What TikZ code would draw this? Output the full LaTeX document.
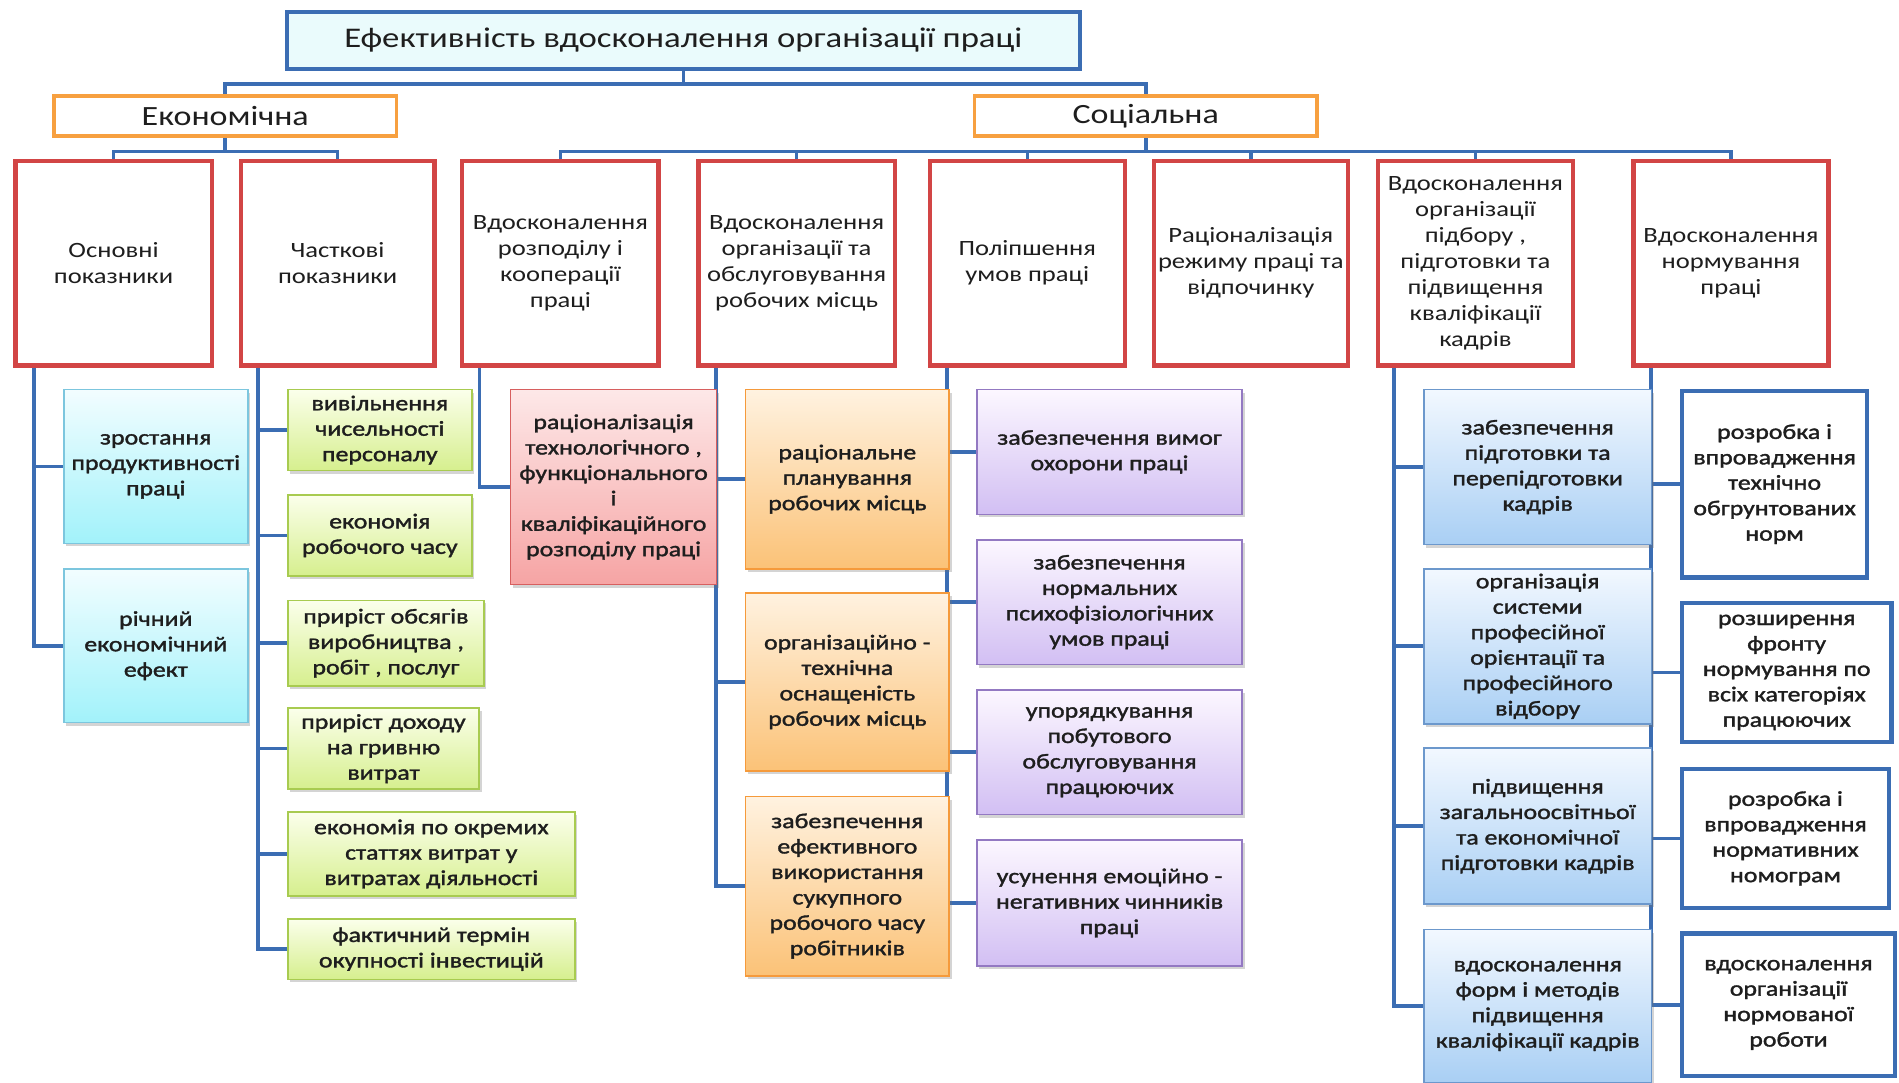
\documentclass[tikz,border=0pt]{standalone}
\usepackage{fontspec}
\setmainfont{Carlito}[FakeStretch=1.22]
\newfontfamily\leaffont{Carlito}[FakeStretch=1.22,FakeBold=1.6]
\usetikzlibrary{shadows,backgrounds}

\definecolor{linkblue}{HTML}{3B6DB3}
\definecolor{titlefill}{HTML}{EAFBFC}
\definecolor{grporange}{HTML}{F7A040}
\definecolor{catred}{HTML}{D24545}
\definecolor{inktext}{HTML}{1E1E1E}
\definecolor{cyantop}{HTML}{F2FDFF}\definecolor{cyanbot}{HTML}{A2F2FA}\definecolor{cyanline}{HTML}{7CC6DE}
\definecolor{greentop}{HTML}{FBFFEB}\definecolor{greenbot}{HTML}{D6EF8E}\definecolor{greenline}{HTML}{A8CB50}
\definecolor{pinktop}{HTML}{FDE8E8}\definecolor{pinkbot}{HTML}{F6A4A4}\definecolor{pinkline}{HTML}{D75F5F}
\definecolor{orangetop}{HTML}{FFF2E0}\definecolor{orangebot}{HTML}{FBC277}\definecolor{orangeline}{HTML}{F59A3B}
\definecolor{purpletop}{HTML}{FCF7FF}\definecolor{purplebot}{HTML}{D2BFF3}\definecolor{purpleline}{HTML}{9379C2}
\definecolor{skytop}{HTML}{F2F8FF}\definecolor{skybot}{HTML}{A9CFF4}\definecolor{skyline}{HTML}{6C98CC}

% box placed by its top-left and bottom-right corners
\newcommand\mkbox[7]{%
  \node[#1, anchor=north west, minimum width={#5-#3}, minimum height={#6-#4}] (#2) at (#3,#4) {#7};}

\tikzset{
  anybox/.style={inner sep=0pt, align=center, text=inktext},
  topbox/.style={anybox, draw=linkblue, line width=3.5pt, fill=titlefill, font=\fontsize{23.5}{27}\selectfont},
  grpbox/.style={anybox, draw=grporange, line width=3pt, fill=white, font=\fontsize{23}{27}\selectfont},
  catbox/.style={anybox, draw=catred, line width=3.5pt, fill=white, font=\fontsize{18}{21.5}\selectfont},
  leaf/.style={anybox, line width=1.3pt, font=\leaffont\fontsize{17.5}{21}\selectfont,
    drop shadow={shadow xshift=2pt, shadow yshift=-2.5pt, opacity=0.3, fill=black!55}},
  cyanleaf/.style={leaf, draw=cyanline, top color=cyantop, bottom color=cyanbot},
  greenleaf/.style={leaf, draw=greenline, top color=greentop, bottom color=greenbot},
  pinkleaf/.style={leaf, draw=pinkline, top color=pinktop, bottom color=pinkbot},
  orangeleaf/.style={leaf, draw=orangeline, top color=orangetop, bottom color=orangebot},
  purpleleaf/.style={leaf, draw=purpleline, top color=purpletop, bottom color=purplebot},
  skyleaf/.style={leaf, draw=skyline, top color=skytop, bottom color=skybot},
  normleaf/.style={anybox, draw=linkblue, line width=3.5pt, fill=white, font=\leaffont\fontsize{17.5}{21}\selectfont},
  link/.style={draw=linkblue, line width=3pt},
}

\begin{document}
\begin{tikzpicture}[x=1pt,y=-1pt]
\useasboundingbox (0,0) rectangle (1568,894);

% header and the two groups
\mkbox{topbox}{title}{235}{8}{890}{55}{Ефективність вдосконалення організації праці}
\mkbox{grpbox}{econ}{43}{78}{326}{111}{Економічна}
\mkbox{grpbox}{soc}{803}{78}{1086}{111}{Соціальна}

% categories
\mkbox{catbox}{r1}{11}{131}{173}{300}{Основні\\показники}
\mkbox{catbox}{r2}{197}{131}{357}{300}{Часткові\\показники}
\mkbox{catbox}{r3}{380}{131}{542}{300}{Вдосконалення\\розподілу і\\кооперації\\праці}
\mkbox{catbox}{r4}{575}{131}{737}{300}{Вдосконалення\\організації та\\обслуговування\\робочих місць}
\mkbox{catbox}{r5}{766}{131}{927}{300}{Поліпшення\\умов праці}
\mkbox{catbox}{r6}{951}{131}{1111}{300}{Раціоналізація\\режиму праці та\\відпочинку}
\mkbox{catbox}{r7}{1136}{131}{1297}{300}{Вдосконалення\\організації\\підбору ,\\підготовки та\\підвищення\\кваліфікації\\кадрів}
\mkbox{catbox}{r8}{1347}{131}{1508}{300}{Вдосконалення\\нормування\\праці}

% main indicators
\mkbox{cyanleaf}{c1}{52}{321}{204}{448}{зростання\\продуктивності\\праці}
\mkbox{cyanleaf}{c2}{52}{469}{204}{596}{річний\\економічний\\ефект}

% partial indicators
\mkbox{greenleaf}{g1}{237}{321}{389}{388}{вивільнення\\чисельності\\персоналу}
\mkbox{greenleaf}{g2}{237}{408}{389}{475}{економія\\робочого часу}
\mkbox{greenleaf}{g3}{237}{495}{399}{566}{приріст обсягів\\виробництва ,\\робіт , послуг}
\mkbox{greenleaf}{g4}{237}{584}{395}{651}{приріст доходу\\на гривню\\витрат}
\mkbox{greenleaf}{g5}{237}{670}{474}{739}{економія по окремих\\статтях витрат у\\витратах діяльності}
\mkbox{greenleaf}{g6}{237}{758}{474}{808}{фактичний термін\\окупності інвестицій}

% division of labour
\mkbox{pinkleaf}{pk}{421}{321}{591}{482}{раціоналізація\\технологічного ,\\функціонального\\і\\кваліфікаційного\\розподілу праці}

% workplaces
\mkbox{orangeleaf}{o1}{615}{321}{783}{469}{раціональне\\планування\\робочих місць}
\mkbox{orangeleaf}{o2}{615}{489}{783}{636}{організаційно -\\технічна\\оснащеність\\робочих місць}
\mkbox{orangeleaf}{o3}{615}{657}{783}{805}{забезпечення\\ефективного\\використання\\сукупного\\робочого часу\\робітників}

% working conditions
\mkbox{purpleleaf}{p1}{806}{321}{1025}{424}{забезпечення вимог\\охорони праці}
\mkbox{purpleleaf}{p2}{806}{445}{1025}{548}{забезпечення\\нормальних\\психофізіологічних\\умов праці}
\mkbox{purpleleaf}{p3}{806}{569}{1025}{672}{упорядкування\\побутового\\обслуговування\\працюючих}
\mkbox{purpleleaf}{p4}{806}{693}{1025}{797}{усунення емоційно -\\негативних чинників\\праці}

% staff
\mkbox{skyleaf}{b1}{1175}{321}{1363}{449}{забезпечення\\підготовки та\\перепідготовки\\кадрів}
\mkbox{skyleaf}{b2}{1175}{469}{1363}{597}{організація\\системи\\професійної\\орієнтації та\\професійного\\відбору}
\mkbox{skyleaf}{b3}{1175}{617}{1363}{746}{підвищення\\загальноосвітньої\\та економічної\\підготовки кадрів}
\mkbox{skyleaf}{b4}{1175}{767}{1363}{893}{вдосконалення\\форм і методів\\підвищення\\кваліфікації кадрів}

% labour standards
\mkbox{normleaf}{w1}{1387}{321}{1540}{475}{розробка і\\впровадження\\технічно\\обгрунтованих\\норм}
\mkbox{normleaf}{w2}{1387}{496}{1560}{611}{розширення\\фронту\\нормування по\\всіх категоріях\\працюючих}
\mkbox{normleaf}{w3}{1387}{633}{1558}{748}{розробка і\\впровадження\\нормативних\\номограм}
\mkbox{normleaf}{w4}{1387}{769}{1563}{887}{вдосконалення\\організації\\нормованої\\роботи}

\begin{pgfonlayer}{background}
  \fill[white] (0,0) rectangle (1568,894);
  % tree links
  \foreach \g in {econ,soc} \draw[link] (title.south) -- ++(0,11) -| (\g.north);
  \foreach \c in {r1,r2} \draw[link] (econ.south) -- ++(0,11) -| (\c.north);
  \foreach \c in {r3,r4,r5,r6,r7,r8} \draw[link] (soc.south) -- ++(0,11) -| (\c.north);
  % side links
  \foreach \l in {c1,c2} \draw[link] ([xshift=17pt]r1.south west) |- (\l.west);
  \foreach \l in {g1,g2,g3,g4,g5,g6} \draw[link] ([xshift=16pt]r2.south west) |- (\l.west);
  \draw[link] ([xshift=16pt]r3.south west) |- (pk.west);
  \foreach \l in {o1,o2,o3} \draw[link] ([xshift=16pt]r4.south west) |- (\l.west);
  \foreach \l in {p1,p2,p3,p4} \draw[link] ([xshift=16pt]r5.south west) |- (\l.west);
  \foreach \l in {b1,b2,b3,b4} \draw[link] ([xshift=15pt]r7.south west) |- (\l.west);
  \foreach \l in {w1,w2,w3,w4} \draw[link] ([xshift=16pt]r8.south west) |- (\l.west);
\end{pgfonlayer}
\end{tikzpicture}
\end{document}
